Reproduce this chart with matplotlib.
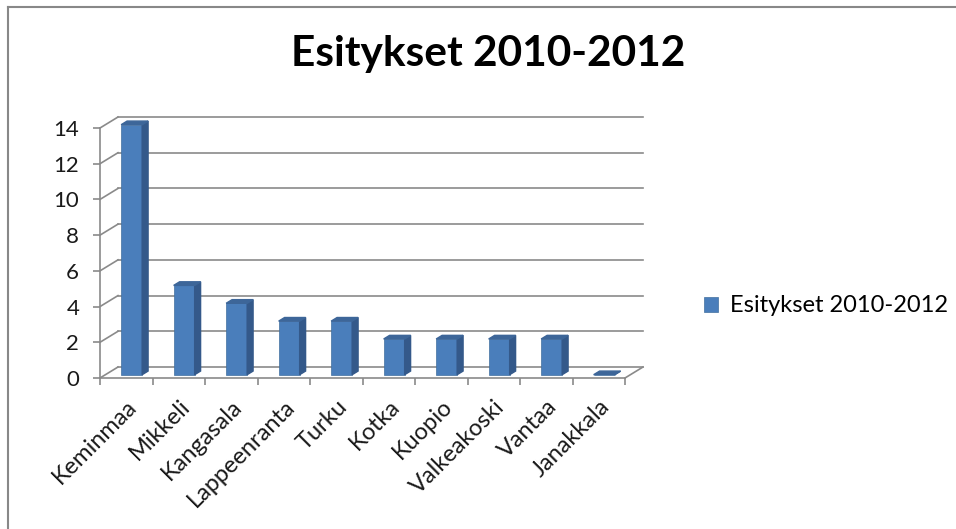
import matplotlib.pyplot as plt
from matplotlib.patches import Polygon
from matplotlib.lines import Line2D

cities = ["Keminmaa", "Mikkeli", "Kangasala", "Lappeenranta", "Turku",
          "Kotka", "Kuopio", "Valkeakoski", "Vantaa", "Janakkala"]
counts = [14, 5, 4, 3, 3, 2, 2, 2, 2, 0]
series_name = "Esitykset 2010-2012"
yticks = [0, 2, 4, 6, 8, 10, 12, 14]

plt.rcParams['font.family'] = ['Lato', 'DejaVu Sans']

W, H = 956, 529
fig = plt.figure(figsize=(W / 100, H / 100), dpi=100)

# front plane of the 3d box, in pixels
x0, x1 = 100, 625
y0, y1 = 378, 128
ax = fig.add_axes([x0 / W, (H - y0) / H, (x1 - x0) / W, (y0 - y1) / H])
n = len(cities)
ax.set_xlim(0, n)
ax.set_ylim(0, 14)

ux = (x1 - x0) / n
uy = (y0 - y1) / 14
DX, DY = 18 / ux, 11 / uy  # depth of the box in data units

grid = "#8a8a8a"
lw = 1.2
fs = 16

# back wall gridlines and side wall diagonals
for v in yticks:
    ax.plot([DX, n + DX], [v + DY, v + DY], color=grid, lw=lw, clip_on=False, zorder=1)
    ax.plot([0, DX], [v, v + DY], color=grid, lw=lw, clip_on=False, zorder=1)
ax.plot([n, n + DX], [0, DY], color=grid, lw=lw, clip_on=False, zorder=1)

# bars
front_c, side_c, top_c = "#4a7ebb", "#34598a", "#3d6699"
bw = 0.4
fd = 0.3   # depth position of front face
bd = 0.33  # bar depth
xs = [i + 0.5 + fd * DX for i in range(n)]
bars = ax.bar(xs, counts, width=bw, bottom=fd * DY, color=front_c,
              edgecolor="#41709f", linewidth=0.5, zorder=3, label=series_name)
for r in bars:
    r.set_clip_on(False)
ddx, ddy = bd * DX, bd * DY
for x, v in zip(xs, counts):
    xl, xr = x - bw / 2, x + bw / 2
    b = fd * DY
    t = b + v
    ax.add_patch(Polygon([(xr, b), (xr + ddx, b + ddy), (xr + ddx, t + ddy), (xr, t)],
                         closed=True, color=side_c, zorder=3, clip_on=False))
    ax.add_patch(Polygon([(xl, t), (xr, t), (xr + ddx, t + ddy), (xl + ddx, t + ddy)],
                         closed=True, color=top_c, zorder=4, clip_on=False))

for s in ["top", "right"]:
    ax.spines[s].set_visible(False)
for s in ["left", "bottom"]:
    ax.spines[s].set_color(grid)
    ax.spines[s].set_linewidth(lw)

ax.set_yticks(yticks)
ax.set_yticklabels([str(v) for v in yticks], fontsize=fs, color="#1a1a1a")
ax.tick_params(axis="y", length=5, width=lw, color=grid, pad=10)

ax.set_xticks(range(n + 1))
ax.set_xticklabels([])
ax.tick_params(axis="x", which="major", length=5, width=lw, color=grid)
ax.set_xticks([i + 0.5 for i in range(n)], minor=True)
ax.set_xticklabels(cities, minor=True, rotation=45, ha="right",
                   rotation_mode="anchor", fontsize=17, color="#1a1a1a")
ax.tick_params(axis="x", which="minor", length=0, pad=13)

fig.text(488 / W, 1 - 54 / H, series_name, ha="center", va="center",
         fontsize=30.5, fontweight="bold")

fig.legend(handles=[bars], loc="center left", bbox_to_anchor=(704 / W, 1 - 306 / H),
           frameon=False, fontsize=17, handlelength=0.6, handleheight=0.6,
           handletextpad=0.5, borderpad=0, borderaxespad=0)

# outer chart frame
fig.add_artist(Line2D([8 / W, 1], [1 - 7 / H, 1 - 7 / H], color="#888888", lw=1.5))
fig.add_artist(Line2D([8 / W, 8 / W], [0, 1 - 7 / H], color="#888888", lw=1.5))

fig.savefig("out.png", dpi=100)
